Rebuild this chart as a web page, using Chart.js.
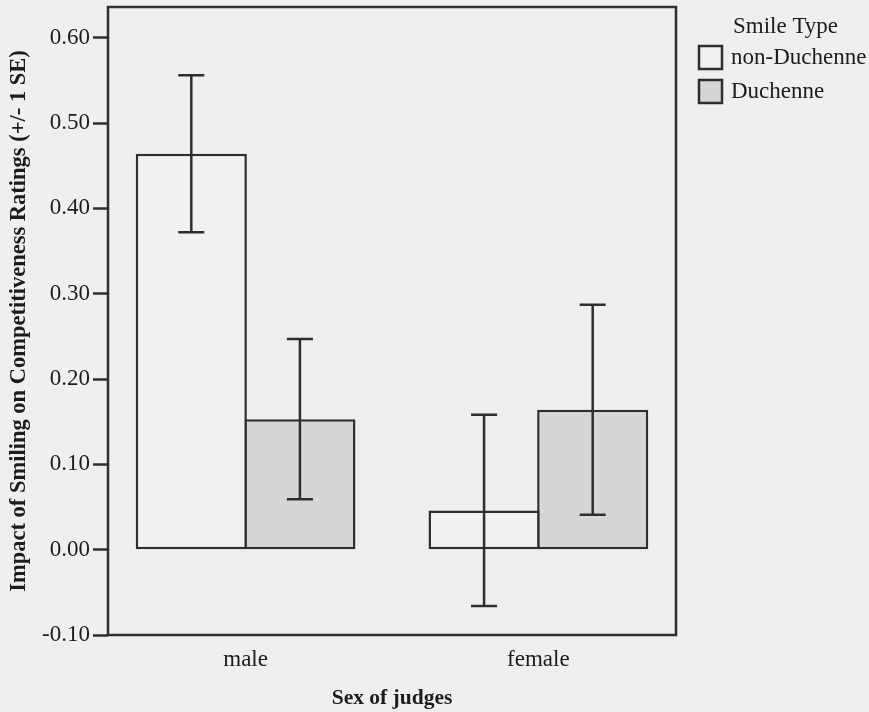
<!DOCTYPE html>
<html>
<head>
<meta charset="utf-8">
<script src="https://cdn.jsdelivr.net/npm/chart.js@4.4.1/dist/chart.umd.min.js"></script>
<style>
  html, body { margin: 0; padding: 0; background: #efefef; }
  #wrap { width: 869px; height: 712px; }
</style>
</head>
<body>
<div id="wrap"><canvas id="myGraph" width="869" height="712"></canvas></div>
<script>
// judges' sex on the x axis, smile type as the two series
const judges = ["male", "female"];
const smileTypes = ["non-Duchenne", "Duchenne"];

// mean impact on competitiveness ratings, and one standard error
const nonDuchenneMean = [0.464, 0.046];
const nonDuchenneSE = [0.092, 0.112];
const duchenneMean = [0.153, 0.164];
const duchenneSE = [0.094, 0.123];

const yTicks = [-0.10, 0.00, 0.10, 0.20, 0.30, 0.40, 0.50, 0.60];

const ink = "#2e2e2e";
const textInk = "#1c1c1c";
const serif = "'Liberation Serif', 'Times New Roman', serif";

const ctx = document.getElementById("myGraph");

// groups sit at x = 0, 1 on a linear axis so the outer gaps can be set
function points(values) {
    return values.map((v, i) => ({ x: i, y: v }));
}

// box around the plot area
const frame = {
    id: "frame",
    afterDraw(chart) {
        const a = chart.chartArea;
        const c = chart.ctx;
        c.save();
        c.strokeStyle = ink;
        c.lineWidth = 2.5;
        c.strokeRect(a.left, a.top, a.right - a.left, a.bottom - a.top);
        c.restore();
    }
};

// +/- 1 SE whiskers on every bar
const errorBars = {
    id: "errorBars",
    afterDatasetsDraw(chart) {
        const c = chart.ctx;
        const y = chart.scales.y;
        c.save();
        c.strokeStyle = ink;
        c.lineWidth = 2.5;
        chart.data.datasets.forEach((ds, i) => {
            const meta = chart.getDatasetMeta(i);
            meta.data.forEach((bar, j) => {
                const m = ds.data[j].y;
                const hi = y.getPixelForValue(m + ds.se[j]);
                const lo = y.getPixelForValue(m - ds.se[j]);
                const cap = 13;
                c.beginPath();
                c.moveTo(bar.x, hi);
                c.lineTo(bar.x, lo);
                c.moveTo(bar.x - cap, hi);
                c.lineTo(bar.x + cap, hi);
                c.moveTo(bar.x - cap, lo);
                c.lineTo(bar.x + cap, lo);
                c.stroke();
            });
        });
        c.restore();
    }
};

// legend block to the right of the frame
const sideLegend = {
    id: "sideLegend",
    afterDraw(chart) {
        const c = chart.ctx;
        const x0 = chart.chartArea.right + 23;
        c.save();
        c.font = "23px " + serif;
        c.textBaseline = "middle";
        c.textAlign = "left";
        c.fillStyle = textInk;
        c.fillText("Smile Type", x0 + 34, 27);
        chart.data.datasets.forEach((ds, i) => {
            const top = 46 + i * 34;
            c.fillStyle = ds.backgroundColor;
            c.fillRect(x0, top, 23, 23);
            c.strokeStyle = ink;
            c.lineWidth = 2.5;
            c.strokeRect(x0, top, 23, 23);
            c.fillStyle = textInk;
            c.fillText(ds.label, x0 + 32, top + 12);
        });
        c.restore();
    }
};

let myChart = new Chart(ctx, {
    type: "bar",
    data: {
        datasets: [{
            label: smileTypes[0],
            data: points(nonDuchenneMean),
            se: nonDuchenneSE,
            backgroundColor: "#f1f1f1",
            borderColor: ink,
            borderWidth: 2.5,
            borderSkipped: false
        }, {
            label: smileTypes[1],
            data: points(duchenneMean),
            se: duchenneSE,
            backgroundColor: "#d6d6d6",
            borderColor: ink,
            borderWidth: 2.5,
            borderSkipped: false
        }]
    },
    options: {
        responsive: false,
        animation: false,
        layout: { padding: { top: 7, right: 193, left: 0, bottom: 0 } },
        datasets: {
            // a touch over 1 so neighbouring bars share one outline
            bar: { barPercentage: 1.023, categoryPercentage: 0.742 }
        },
        plugins: {
            legend: { display: false },
            tooltip: { enabled: false }
        },
        scales: {
            x: {
                type: "linear",
                min: -0.47,
                max: 1.47,
                offset: false,
                afterBuildTicks(scale) {
                    scale.ticks = judges.map((_, i) => ({ value: i }));
                },
                grid: { display: false, drawTicks: false },
                border: { display: false },
                ticks: {
                    color: textInk,
                    padding: 11,
                    font: { family: serif, size: 23 },
                    callback: v => judges[v]
                },
                title: {
                    display: true,
                    text: "Sex of judges",
                    color: textInk,
                    padding: { top: 0, bottom: 1 },
                    font: { family: serif, size: 21.5, weight: "bold" }
                },
                afterFit(scale) {
                    scale.height = 77;
                    scale.paddingLeft = 0;
                    scale.paddingRight = 0;
                }
            },
            y: {
                min: -0.10,
                max: 0.636,
                afterBuildTicks(scale) {
                    scale.ticks = yTicks.map(v => ({ value: v }));
                },
                grid: {
                    drawOnChartArea: false,
                    drawTicks: true,
                    tickLength: 15,
                    tickWidth: 2.5,
                    tickColor: ink
                },
                border: { display: false },
                ticks: {
                    color: textInk,
                    padding: 3,
                    font: { family: serif, size: 23 },
                    callback: v => v.toFixed(2)
                },
                title: {
                    display: true,
                    text: "Impact of Smiling on Competitiveness Ratings (+/- 1 SE)",
                    color: textInk,
                    padding: { top: 6, bottom: 0 },
                    font: { family: serif, size: 22.5, weight: "bold" }
                },
                afterFit(scale) {
                    scale.width = 108;
                    scale.paddingTop = 0;
                    scale.paddingBottom = 0;
                }
            }
        }
    },
    plugins: [frame, errorBars, sideLegend]
});
</script>
</body>
</html>
